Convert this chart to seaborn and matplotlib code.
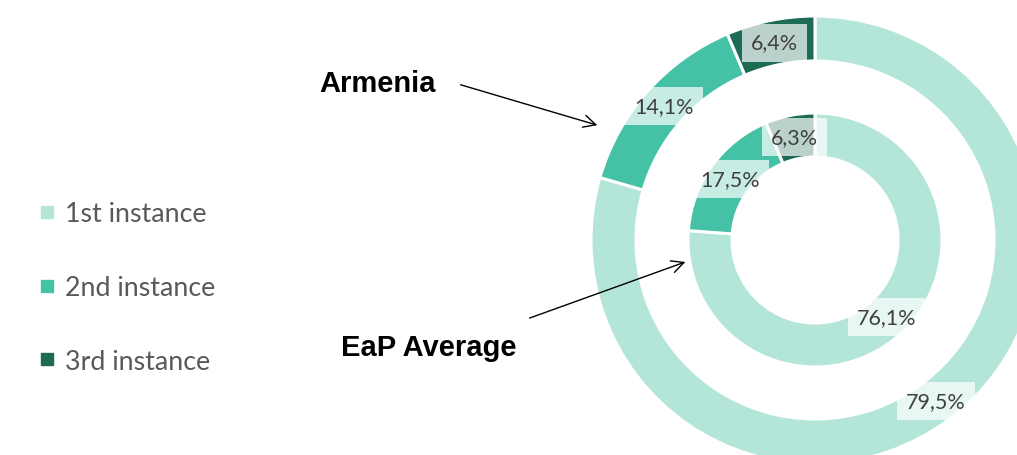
import matplotlib
matplotlib.use("Agg")
import matplotlib.pyplot as plt
import seaborn as sns
from matplotlib.lines import Line2D

sns.set_theme(style="white")
plt.rcParams["font.family"] = ["Lato", "DejaVu Sans"]

categories = ["1st instance", "2nd instance", "3rd instance"]
armenia = [79.5, 14.1, 6.4]
eap_average = [76.1, 17.5, 6.3]
colors = ["#b3e6d9", "#45c2a5", "#1e6b55"]
label_color = "#404040"

W, H = 1017, 456
fig = plt.figure(figsize=(W / 100, H / 100), dpi=100)
ax = fig.add_axes([0, 0, 1, 1])

cx, cy, R = 815, 241, 224  # pixels (from top-left) of ring centre and outer radius
outer_w = 45 / R
inner_r = 127 / R
inner_w = 44 / R


def fmt(v):
    return (f"{v:.1f}%").replace(".", ",")


def ring(values, radius, width):
    wedges, texts, autotexts = ax.pie(
        values, radius=radius, colors=colors, startangle=90, counterclock=False,
        wedgeprops=dict(width=width, edgecolor="white", linewidth=2.2),
        autopct=lambda p: "", pctdistance=(radius - width / 2) / radius,
    )
    for v, t in zip(values, autotexts):
        t.set_text(fmt(v))
        t.set_color(label_color)
        t.set_fontsize(15.5)
        t.set_bbox(dict(boxstyle="square,pad=0.42", facecolor="white", alpha=0.7, edgecolor="none"))
    return wedges


ring(armenia, 1.0, outer_w)
ring(eap_average, inner_r, inner_w)

ax.set_xlim(-cx / R, (W - cx) / R)
ax.set_ylim(-(H - cy) / R, cy / R)
ax.set_aspect("auto")
ax.axis("off")

# legend
handles = [Line2D([0], [0], marker="s", linestyle="none", markersize=9,
                  markerfacecolor=c, markeredgecolor=c) for c in colors]
leg = fig.legend(handles, categories, loc="center left", bbox_to_anchor=(26 / W, 1 - 288.5 / H),
                 frameon=False, fontsize=19.3, labelspacing=1.82, handletextpad=0.25,
                 handlelength=0.8, borderaxespad=0)
for t in leg.get_texts():
    t.set_color("#595959")

# annotations
ax.annotate("", xy=(600 / W, 1 - 127 / H), xytext=(458 / W, 1 - 85 / H),
            xycoords="figure fraction", textcoords="figure fraction",
            arrowprops=dict(arrowstyle="->", color="black", lw=1, mutation_scale=22))
ax.annotate("", xy=(688 / W, 1 - 262 / H), xytext=(527 / W, 1 - 320 / H),
            xycoords="figure fraction", textcoords="figure fraction",
            arrowprops=dict(arrowstyle="->", color="black", lw=1, mutation_scale=22))
fig.text(378 / W, 1 - 84 / H, "Armenia", family="Liberation Sans", fontweight="bold",
         fontsize=21, ha="center", va="center", color="black")
fig.text(429 / W, 1 - 348 / H, "EaP Average", family="Liberation Sans", fontweight="bold",
         fontsize=21, ha="center", va="center", color="black")

fig.savefig("out.png", dpi=100)
